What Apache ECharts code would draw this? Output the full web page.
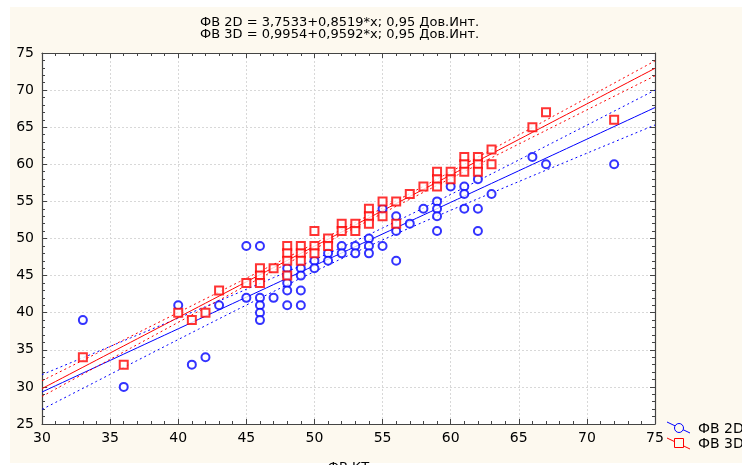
<!DOCTYPE html>
<html>
<head>
<meta charset="utf-8">
<script src="https://cdn.jsdelivr.net/npm/echarts@6/dist/echarts.min.js"></script>
<style>
  html, body { margin: 0; padding: 0; background: #fff; }
  #chart { width: 742px; height: 465px; }
</style>
</head>
<body>
<div id="chart"></div>
<script>
// ФВ КТ (x) vs ФВ 2D / ФВ 3D (y)
const x2d = [33, 36, 40, 41, 42, 43, 45, 45, 46, 46, 46, 46, 46, 47,
  48, 48, 48, 48, 48, 49, 49, 49, 49, 50, 50, 51, 51, 52, 52, 53, 53,
  54, 54, 54, 55, 55, 56, 56, 56, 57, 58, 59, 59, 59, 59, 60,
  61, 61, 61, 62, 62, 62, 63, 66, 67, 72]
const y2d = [39, 30, 41, 33, 34, 41, 42, 49, 49, 42, 41, 40, 39, 42,
  46, 45, 44, 43, 41, 46, 45, 43, 41, 47, 46, 48, 47, 49, 48, 49, 48,
  50, 49, 48, 54, 49, 53, 51, 47, 52, 54, 55, 54, 53, 51, 57,
  57, 56, 54, 58, 54, 51, 56, 61, 60, 60]

const x3d = [33, 36, 40, 41, 42, 43, 45, 46, 46, 46, 47,
  48, 48, 48, 48, 49, 49, 49, 50, 50, 50, 51, 51, 52, 52, 53, 53,
  54, 54, 54, 55, 55, 56, 56, 57, 58, 59, 59, 59, 60, 60,
  61, 61, 61, 62, 62, 62, 63, 63, 66, 67, 72]
const y3d = [34, 33, 40, 39, 40, 43, 44, 46, 45, 44, 46,
  49, 48, 47, 45, 49, 48, 47, 51, 49, 48, 50, 49, 52, 51, 52, 51,
  54, 53, 52, 55, 53, 55, 52, 56, 57, 59, 58, 57, 59, 58,
  61, 60, 59, 61, 60, 59, 62, 60, 65, 67, 66]

// fits as printed in the title: [intercept, slope]
const fit2d = [3.7533, 0.8519]
const fit3d = [0.9954, 0.9592]

const xTicks = { min: 30, max: 75, step: 5 }
const yTicks = { min: 25, max: 75, step: 5 }

const BLUE = '#0000ff'
const RED = '#ff0000'
const CREAM = '#fdf9ef'
const FONT = 'DejaVu Sans'

// straight fit line + 95% confidence band for the mean
const fitLines = (xs, ys, fit) => {
  const [a, b] = fit
  const n = xs.length
  const mx = xs.reduce((s, v) => s + v, 0) / n
  const sxx = xs.reduce((s, v) => s + (v - mx) ** 2, 0)
  const sse = xs.reduce((s, v, i) => s + (ys[i] - a - b * v) ** 2, 0)
  const se = Math.sqrt(sse / (n - 2))
  const t = 2.005
  const mid = [], lo = [], hi = []
  for (let x = xTicks.min; x <= xTicks.max + 1e-9; x += 0.5) {
    const y = a + b * x
    const h = t * se * Math.sqrt(1 / n + (x - mx) ** 2 / sxx)
    mid.push([x, y])
    lo.push([x, y - h])
    hi.push([x, y + h])
  }
  return { mid, lo, hi }
}

const f2 = fitLines(x2d, y2d, fit2d)
const f3 = fitLines(x3d, y3d, fit3d)

const pairs = (xs, ys) => xs.map((x, i) => [x, ys[i]])

const chart = echarts.init(document.getElementById('chart'))

const axisCommon = {
  type: 'value',
  axisLine: { show: true, lineStyle: { color: '#444', width: 1.2 } },
  axisTick: { show: true, inside: true, length: 5, lineStyle: { color: '#444' } },
  minorTick: { show: true, splitNumber: 5, length: 3, lineStyle: { color: '#444' } },
  minorSplitLine: { show: false }
}

const lineSeries = (data, color, dotted) => ({
  type: 'line',
  data,
  showSymbol: false,
  silent: true,
  z: 3,
  lineStyle: { color, width: 1, type: dotted ? [2, 3] : 'solid' }
})

chart.setOption({
  animation: false,
  backgroundColor: '#fff',
  textStyle: { fontFamily: FONT },
  title: {
    text: 'ФВ 2D = 3,7533+0,8519*x; 0,95 Дов.Инт.\nФВ 3D = 0,9954+0,9592*x; 0,95 Дов.Инт.',
    left: 195,
    top: 12,
    textStyle: { fontSize: 13, lineHeight: 11.5, fontWeight: 'normal', color: '#000', fontFamily: FONT }
  },
  graphic: [
    { type: 'rect', z: -10, silent: true, shape: { x: 10, y: 7, width: 732, height: 456 }, style: { fill: CREAM } },
    { type: 'line', shape: { x1: 667, y1: 422, x2: 690, y2: 433 }, style: { stroke: BLUE, lineWidth: 1 } },
    { type: 'circle', shape: { cx: 679, cy: 428, r: 4.5 }, style: { fill: CREAM, stroke: BLUE, lineWidth: 1 } },
    { type: 'text', x: 698, y: 429, style: { text: 'ФВ 2D', fontSize: 14, fontFamily: FONT, fill: '#000', verticalAlign: 'middle' } },
    { type: 'line', shape: { x1: 667, y1: 438, x2: 690, y2: 449 }, style: { stroke: RED, lineWidth: 1 } },
    { type: 'rect', shape: { x: 674.5, y: 438.5, width: 9, height: 9 }, style: { fill: CREAM, stroke: RED, lineWidth: 1 } },
    { type: 'text', x: 698, y: 444, style: { text: 'ФВ 3D', fontSize: 14, fontFamily: FONT, fill: '#000', verticalAlign: 'middle' } }
  ],
  grid: {
    left: 42, right: 87, top: 53, bottom: 41,
    outerBoundsMode: 'none',
    show: true, backgroundColor: '#fff', borderWidth: 0
  },
  xAxis: [
    {
      ...axisCommon,
      position: 'bottom',
      min: xTicks.min, max: xTicks.max, interval: xTicks.step,
      splitLine: { show: true, lineStyle: { color: '#d8d8d8', type: [2, 2] } },
      axisLabel: { fontSize: 14, color: '#000', margin: 7, fontFamily: FONT },
      name: 'ФВ КТ',
      nameLocation: 'middle',
      nameGap: 37,
      nameTextStyle: { fontSize: 13, color: '#000', fontFamily: FONT }
    },
    {
      ...axisCommon,
      position: 'top',
      min: xTicks.min, max: xTicks.max, interval: xTicks.step,
      splitLine: { show: false },
      axisLabel: { show: false }
    }
  ],
  yAxis: [
    {
      ...axisCommon,
      position: 'left',
      min: yTicks.min, max: yTicks.max, interval: yTicks.step,
      splitLine: { show: true, lineStyle: { color: '#d8d8d8', type: [2, 2] } },
      axisLabel: { fontSize: 14, color: '#000', margin: 8, fontFamily: FONT }
    },
    {
      ...axisCommon,
      position: 'right',
      min: yTicks.min, max: yTicks.max, interval: yTicks.step,
      splitLine: { show: false },
      axisLabel: { show: false }
    }
  ],
  series: [
    lineSeries(f2.mid, BLUE, false),
    lineSeries(f2.lo, BLUE, true),
    lineSeries(f2.hi, BLUE, true),
    lineSeries(f3.mid, RED, false),
    lineSeries(f3.lo, RED, true),
    lineSeries(f3.hi, RED, true),
    {
      name: 'ФВ 2D',
      type: 'scatter',
      data: pairs(x2d, y2d),
      symbol: 'emptyCircle',
      symbolSize: 8,
      z: 4,
      itemStyle: { color: BLUE, borderColor: BLUE, borderWidth: 1 }
    },
    {
      name: 'ФВ 3D',
      type: 'scatter',
      data: pairs(x3d, y3d),
      symbol: 'emptyRect',
      symbolSize: 8,
      z: 5,
      itemStyle: { color: RED, borderColor: RED, borderWidth: 1 }
    }
  ]
})
</script>
</body>
</html>
